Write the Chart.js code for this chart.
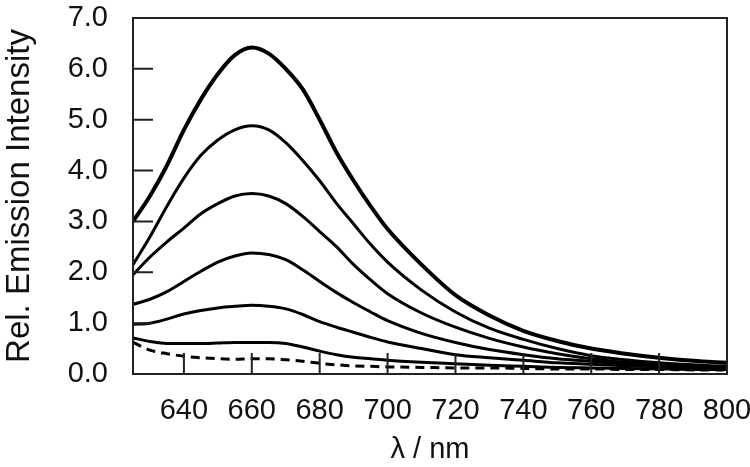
<!DOCTYPE html>
<html>
<head>
<meta charset="utf-8">
<script src="https://cdn.jsdelivr.net/npm/chart.js@4"></script>
<style>
  html, body { margin: 0; padding: 0; background: #fff; }
  #wrap { width: 750px; height: 467px; }
</style>
</head>
<body>
<div id="wrap"><canvas id="myChart" width="750" height="467"></canvas></div>
<script>
// ---------------- data ----------------
const wavelengths = [625, 630, 635, 640, 645, 650, 655, 660, 665, 670, 675, 680, 685, 690, 695, 700, 710, 720, 730, 740, 750, 760, 770, 780, 790, 800]

const curveA = [3.0, 3.5, 4.1, 4.8, 5.4, 5.9, 6.27, 6.42, 6.3, 6.0, 5.6, 5.0, 4.35, 3.8, 3.3, 2.85, 2.15, 1.55, 1.15, 0.85, 0.65, 0.5, 0.4, 0.32, 0.26, 0.22]
const curveB = [2.15, 2.7, 3.3, 3.85, 4.3, 4.6, 4.8, 4.88, 4.8, 4.55, 4.2, 3.8, 3.35, 2.95, 2.55, 2.2, 1.65, 1.22, 0.9, 0.68, 0.5, 0.36, 0.28, 0.22, 0.18, 0.15]
const curveC = [1.95, 2.3, 2.6, 2.87, 3.15, 3.35, 3.5, 3.55, 3.5, 3.35, 3.1, 2.8, 2.5, 2.15, 1.85, 1.58, 1.2, 0.92, 0.7, 0.53, 0.4, 0.3, 0.23, 0.18, 0.15, 0.12]
const curveD = [1.37, 1.47, 1.62, 1.82, 2.02, 2.2, 2.32, 2.38, 2.35, 2.25, 2.05, 1.82, 1.6, 1.4, 1.22, 1.05, 0.8, 0.62, 0.48, 0.38, 0.3, 0.25, 0.2, 0.17, 0.14, 0.12]
const curveE = [0.98, 1.0, 1.08, 1.18, 1.25, 1.3, 1.33, 1.35, 1.33, 1.28, 1.17, 1.03, 0.92, 0.82, 0.72, 0.63, 0.5, 0.38, 0.32, 0.27, 0.22, 0.19, 0.16, 0.14, 0.12, 0.1]
const curveF = [0.71, 0.64, 0.6, 0.6, 0.6, 0.61, 0.62, 0.62, 0.62, 0.6, 0.53, 0.45, 0.38, 0.33, 0.3, 0.27, 0.23, 0.2, 0.17, 0.15, 0.13, 0.12, 0.11, 0.1, 0.09, 0.09]
const curveDash = [0.62, 0.47, 0.4, 0.35, 0.32, 0.3, 0.29, 0.3, 0.3, 0.28, 0.25, 0.21, 0.18, 0.16, 0.15, 0.14, 0.13, 0.12, 0.12, 0.11, 0.1, 0.1, 0.09, 0.09, 0.08, 0.08]

const xTicks = [640, 660, 680, 700, 720, 740, 760, 780, 800]
const yTicks = [0, 1, 2, 3, 4, 5, 6, 7]
const xRange = [625, 800]
const yRange = [0, 7]

const fontFam = '"Liberation Sans", Arial, Helvetica, sans-serif'

//------------------------- helpers -------------------------
const toPoints = (vals) => vals.map((v, i) => ({ x: wavelengths[i], y: v }))

const line = (vals, width, dash) => ({
    data: toPoints(vals),
    borderColor: '#000',
    borderWidth: width,
    borderDash: dash || [],
    pointRadius: 0,
    fill: false,
    tension: 0.4,
    cubicInterpolationMode: 'monotone'
})

// frame round the plot and tick marks pointing inwards (placed by the scales)
const framePlugin = {
    id: 'frame',
    afterDraw(chart) {
        const ctx = chart.ctx
        const xs = chart.scales.x
        const ys = chart.scales.y
        const left = xs.getPixelForValue(xRange[0])
        const right = xs.getPixelForValue(xRange[1])
        const bottom = ys.getPixelForValue(yRange[0])
        const top = ys.getPixelForValue(yRange[1])
        ctx.save()
        ctx.strokeStyle = '#222'
        ctx.lineWidth = 2
        ctx.strokeRect(left, top, right - left, bottom - top)
        ctx.beginPath()
        xTicks.forEach(t => {
            const px = xs.getPixelForValue(t)
            ctx.moveTo(px, bottom)
            ctx.lineTo(px, bottom - 21)
        })
        yTicks.forEach(t => {
            const py = ys.getPixelForValue(t)
            ctx.moveTo(left, py)
            ctx.lineTo(left + 20, py)
        })
        ctx.stroke()
        ctx.restore()
    }
}

//------------------------- chart -------------------------
const data = {
    datasets: [
        line(curveA, 4),
        line(curveB, 3),
        line(curveC, 3),
        line(curveD, 3),
        line(curveE, 3),
        line(curveF, 3),
        line(curveDash, 3, [9, 6])
    ]
}

const config = {
    type: 'line',
    data: data,
    options: {
        responsive: false,
        animation: false,
        layout: { padding: { top: 18, right: 0, left: 0, bottom: 0 } },
        plugins: { legend: { display: false }, tooltip: { enabled: false } },
        scales: {
            x: {
                type: 'linear',
                min: xRange[0],
                max: xRange[1],
                afterBuildTicks: (s) => { s.ticks = xTicks.map(v => ({ value: v })) },
                afterFit: (s) => { s.height = 93; s.paddingLeft = 0; s.paddingRight = 23 },
                grid: { display: false, drawTicks: false },
                border: { display: false },
                ticks: {
                    color: '#111',
                    padding: 20,
                    maxRotation: 0,
                    font: { family: fontFam, size: 29 }
                },
                title: {
                    display: true,
                    text: 'λ / nm',
                    color: '#111',
                    padding: { top: 2, bottom: 0 },
                    font: { family: fontFam, size: 29 }
                }
            },
            y: {
                min: yRange[0],
                max: yRange[1],
                afterBuildTicks: (s) => { s.ticks = yTicks.map(v => ({ value: v })) },
                afterFit: (s) => { s.width = 133; s.paddingTop = 0; s.paddingBottom = 0 },
                grid: { display: false, drawTicks: false },
                border: { display: false },
                ticks: {
                    color: '#111',
                    padding: 25,
                    font: { family: fontFam, size: 29 },
                    callback: (v) => Number(v).toFixed(1)
                },
                title: {
                    display: true,
                    text: 'Rel. Emission Intensity',
                    color: '#111',
                    padding: { top: 0, bottom: 0 },
                    font: { family: fontFam, size: 33 }
                }
            }
        }
    },
    plugins: [framePlugin]
}

const myChart = new Chart(document.getElementById('myChart'), config)
</script>
</body>
</html>
